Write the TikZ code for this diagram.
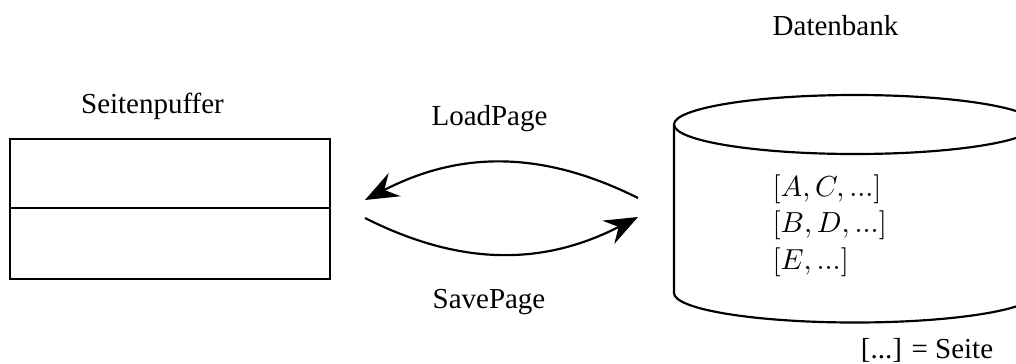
\documentclass[tikz,border=0pt]{standalone}
\usepackage{fontspec}
\setmainfont{Liberation Serif}
\usetikzlibrary{arrows.meta}
\tikzset{
  line/.style={line width=0.75pt},
  flow/.style={line width=0.75pt,-{Stealth[length=11.5pt,width=9pt,inset=4pt]}},
  lbl/.style={anchor=base,inner sep=0pt,font=\fontsize{10}{12}\selectfont},
  mth/.style={anchor=base west,inner sep=0pt,font=\fontsize{10}{12}\selectfont}
}
\begin{document}
\begin{tikzpicture}[x=0.345pt,y=0.345pt]
\useasboundingbox (0,0) rectangle (1016,363);
% Seitenpuffer
\node[lbl] (sp) at (152.5,250) {Seitenpuffer};
\draw[line] (10,84) rectangle (330,224);
\draw[line] (10,155) -- (330,155);
% Datenbank cylinder
\node[lbl] (db) at (835.5,328) {Datenbank};
\draw[line] (855,238.5) ellipse [x radius=181, y radius=29.5];
\draw[line] (674,238.5) -- (674,70) arc[start angle=180,end angle=360,x radius=181,y radius=29.5] -- (1036,238.5);
\node[mth] (r1) at (772,167) {$[A, C, ...]$};
\node[mth] (r2) at (772,130.5) {$[B, D, ...]$};
\node[mth] (r3) at (772,94) {$[E, ...]$};
\node[lbl] (leg) at (927,5) {[...] = Seite};
% arrows
\coordinate (lr) at (638,165);
\coordinate (ll) at (365,163);
\coordinate (sl) at (365,145);
\coordinate (sr) at (638,146);
\draw[flow] (lr) to[bend right=27] (ll);
\draw[flow] (sl) to[bend right=27] (sr);
\node[lbl] (lp) at (489.5,238) {LoadPage};
\node[lbl] (svp) at (489,55) {SavePage};
\end{tikzpicture}
\end{document}
